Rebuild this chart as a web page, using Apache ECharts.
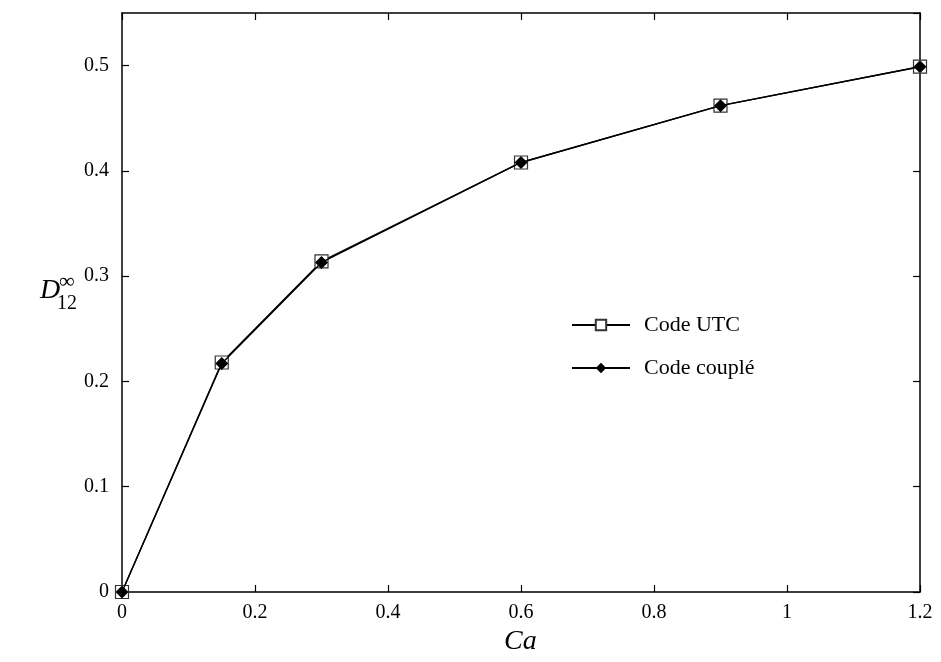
<!DOCTYPE html>
<html><head><meta charset="utf-8">
<script src="https://cdn.jsdelivr.net/npm/echarts@6/dist/echarts.min.js"></script>
<style>html,body{margin:0;padding:0;background:#fff}#c{width:941px;height:662px}</style>
</head><body><div id="c"></div>
<script>
const caValues = [0, 0.15, 0.3, 0.6, 0.9, 1.2];
const utcValues = [0, 0.218, 0.314, 0.408, 0.462, 0.499];
const coupleValues = [0, 0.217, 0.313, 0.408, 0.462, 0.499];
const seriesNames = ['Code UTC', 'Code couplé'];

const FONT = 'Liberation Serif';
const chart = echarts.init(document.getElementById('c'), null, {renderer: 'canvas'});
const axisCommon = {
  axisLine: {show: true, onZero: false, lineStyle: {color: '#000', width: 1.5}},
  axisTick: {show: true, inside: true, length: 7, lineStyle: {color: '#000', width: 1.2}},
  splitLine: {show: false}
};
const fmt = v => String(Math.round(v*10)/10);
chart.setOption({
  animation: false,
  backgroundColor: '#fff',
  grid: {left: 122, right: 21, top: 13, bottom: 70, containLabel: false},
  legend: {
    orient: 'vertical', left: 571, top: 314, itemGap: 21, padding: 0,
    itemWidth: 58, itemHeight: 13,
    textStyle: {fontFamily: FONT, fontSize: 22, color: '#000', padding: [0,0,0,9]},
    data: seriesNames
  },
  xAxis: [
    Object.assign({type: 'value', min: 0, max: 1.2, interval: 0.2, position: 'bottom',
      axisLabel: {fontFamily: FONT, fontSize: 20, color: '#000', margin: 11, formatter: fmt}}, axisCommon),
    Object.assign({type: 'value', min: 0, max: 1.2, interval: 0.2, position: 'top',
      axisLabel: {show: false}}, axisCommon)
  ],
  yAxis: [
    Object.assign({type: 'value', min: 0, max: 0.55, interval: 0.1, position: 'left',
      axisLabel: {fontFamily: FONT, fontSize: 20, color: '#000', margin: 13, showMaxLabel: false, formatter: fmt}}, axisCommon),
    Object.assign({type: 'value', min: 0, max: 0.55, interval: 0.1, position: 'right',
      axisLabel: {show: false}}, axisCommon)
  ],
  series: [
    {name: seriesNames[0], type: 'line', data: caValues.map((x,i)=>[x, utcValues[i]]),
      symbol: 'rect', symbolSize: 13, showAllSymbol: true,
      itemStyle: {color: '#fff', borderColor: '#333', borderWidth: 1.2},
      lineStyle: {color: '#000', width: 1.4}, z: 2},
    {name: seriesNames[1], type: 'line', data: caValues.map((x,i)=>[x, coupleValues[i]]),
      symbol: 'diamond', symbolSize: 13, showAllSymbol: true,
      itemStyle: {color: '#000', borderColor: '#000', borderWidth: 0},
      lineStyle: {color: '#000', width: 1.4}, z: 3}
  ],
  graphic: [
    {type: 'text', left: 504, top: 628, style: {
      text: 'Ca', fontFamily: FONT, fontSize: 28, fontStyle: 'italic', fill: '#000'}},
    {type: 'text', left: 40, top: 277, style: {text: 'D', fontFamily: FONT, fontSize: 28, fontStyle: 'italic', fill: '#000'}},
    {type: 'text', left: 59, top: 271, style: {text: '∞', fontFamily: FONT, fontSize: 22, fill: '#000'}},
    {type: 'text', left: 57, top: 294, style: {text: '12', fontFamily: FONT, fontSize: 20, fill: '#000'}}
  ]
});
</script></body></html>
